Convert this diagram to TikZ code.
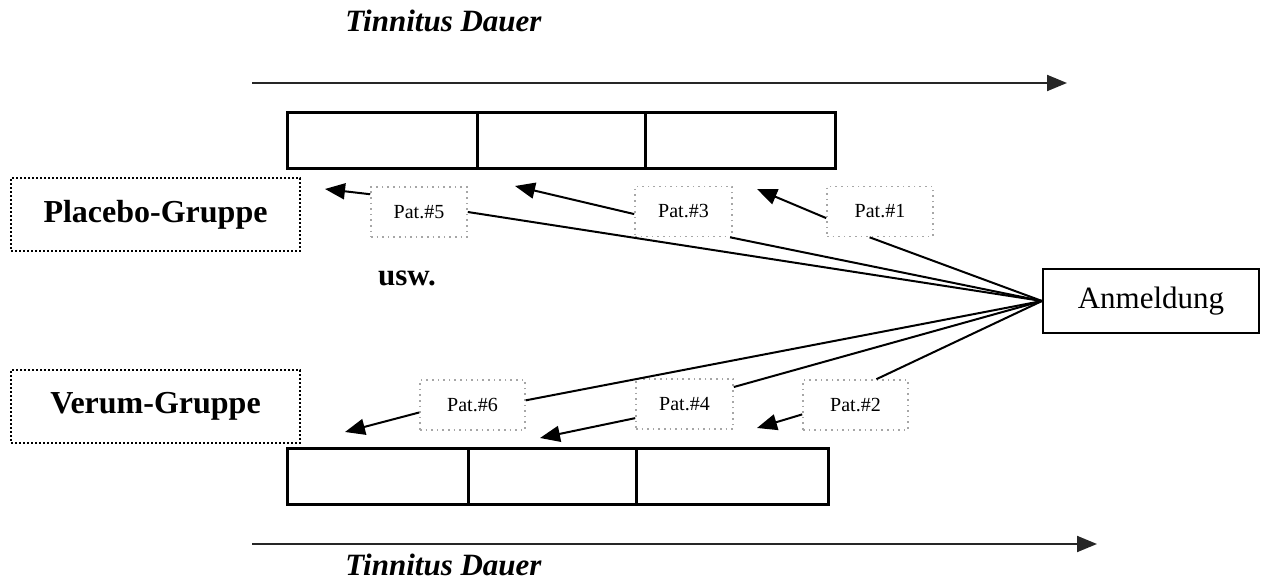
\documentclass[tikz,border=0pt]{standalone}
\usepackage{fontspec}
\setmainfont{Liberation Serif}
\usetikzlibrary{arrows.meta}
\begin{document}
\begin{tikzpicture}[x=0.5pt, y=-0.5pt,
        cell/.style={draw, line width=1.5pt, minimum height=28pt, inner sep=0pt, minimum width=#1},
        group/.style={draw, densely dotted, line width=1pt, minimum width=144.5pt, minimum height=36.5pt,
                      font=\bfseries\fontsize{16}{19}\selectfont},
        pat/.style={draw=gray!70, dotted, line width=0.8pt, minimum height=25pt, minimum width=#1,
                    inner sep=0pt, font=\fontsize{10}{12}\selectfont},
        pat/.default=49pt,
        title/.style={font=\bfseries\itshape\fontsize{15.5}{18}\selectfont, anchor=base, inner sep=0pt},
        axis/.style={-{Triangle[length=10pt, width=8pt]}, line width=1pt, draw=black!85},
        arr/.style={-{Triangle[length=10pt, width=8pt]}, line width=1pt},
        lnk/.style={line width=1pt}
    ]
    \useasboundingbox (0,0) rectangle (1265,582);

    % time axes
    \node[title] (dur1) at (443.5,32) {Tinnitus Dauer};
    \coordinate (ax1s) at (252,83);
    \coordinate (ax1e) at (1067,83);
    \draw[axis] (ax1s) -- (ax1e);

    \node[title] (dur2) at (443.5,576) {Tinnitus Dauer};
    \coordinate (ax2s) at (252,544);
    \coordinate (ax2e) at (1097,544);
    \draw[axis] (ax2s) -- (ax2e);

    % strips
    \node[cell=95pt] (a1) at (382,141) {};
    \node[cell=84pt] (a2) at (561,141) {};
    \node[cell=95pt] (a3) at (740,141) {};

    \node[cell=90.5pt] (b1) at (377.5,477) {};
    \node[cell=84pt]   (b2) at (552,477) {};
    \node[cell=96pt]   (b3) at (732,477) {};

    % groups
    \node[group] (plac) at (155.5,214.5) {Placebo-Gruppe};
    \node[group] (ver)  at (155.5,406.5) {Verum-Gruppe};
    \node[font=\bfseries\fontsize{15.5}{18}\selectfont] (usw) at (407,278) {usw.};

    \node[draw, line width=1pt, minimum width=108pt, minimum height=32pt,
          font=\fontsize{15.5}{18}\selectfont] (anm) at (1151,301) {Anmeldung};

    % patients
    \node[pat=48pt] (p5) at (419,212)   {Pat.\#5};
    \node[pat=48.5pt] (p3) at (683.5,211.5) {Pat.\#3};
    \node[pat=53pt] (p1) at (880,211.5) {Pat.\#1};
    \node[pat=52.5pt] (p6) at (472.5,405) {Pat.\#6};
    \node[pat=48.5pt] (p4) at (684.5,404) {Pat.\#4};
    \node[pat=52.5pt] (p2) at (855.5,405) {Pat.\#2};

    \coordinate (t5) at (325,189);
    \coordinate (t3) at (515,186);
    \coordinate (t1) at (757,189);
    \coordinate (t6) at (345,432);
    \coordinate (t4) at (540,438);
    \coordinate (t2) at (757,428);

    \draw[arr] (p5.160) -- (t5);
    \draw[arr] (p3.183) -- (t3);
    \draw[arr] (p1.187) -- (t1);
    \draw[arr] (p6.188) -- (t6);
    \draw[arr] (p4.196) -- (t4);
    \draw[arr] (p2.190) -- (t2);

    % registration
    \draw[lnk] (anm.west) -- (p5.east);
    \draw[lnk] (anm.west) -- (p3.-29);
    \draw[lnk] (anm.west) -- (p1.-112);
    \draw[lnk] (anm.west) -- (p6.5);
    \draw[lnk] (anm.west) -- (p4.19);
    \draw[lnk] (anm.west) -- (p2.51);
\end{tikzpicture}
\end{document}
